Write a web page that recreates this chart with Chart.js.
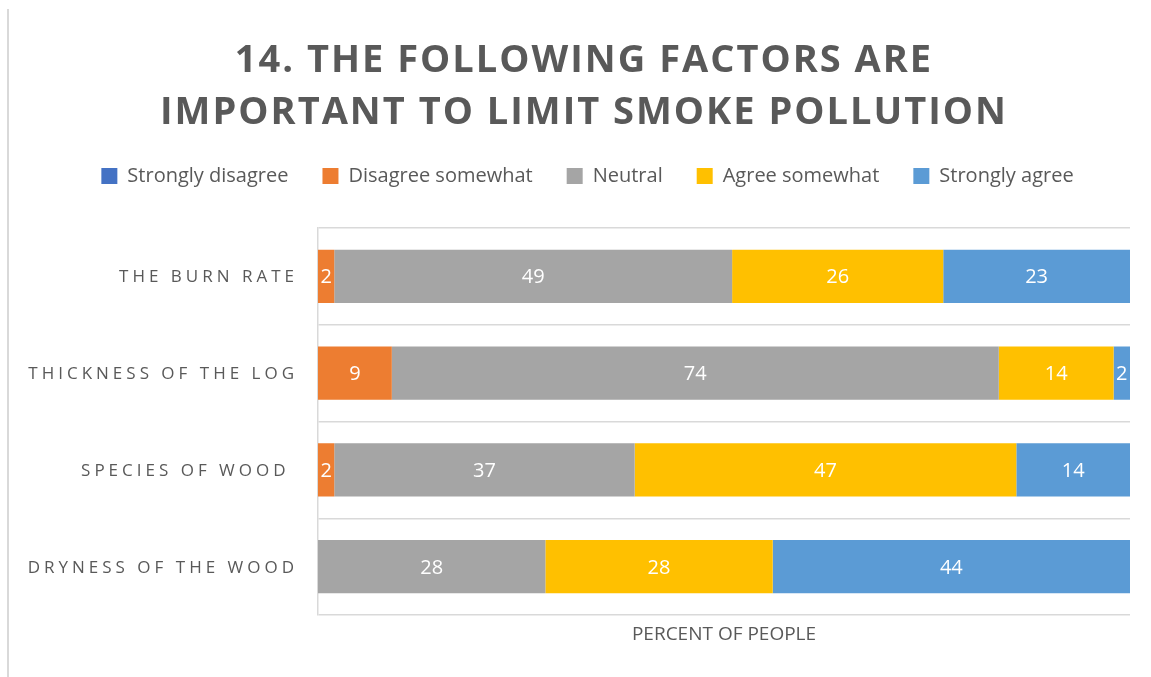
<!DOCTYPE html>
<html lang="en">
<head>
<meta charset="UTF-8">
<title>Factors to limit smoke pollution</title>
<script src="https://cdn.jsdelivr.net/npm/chart.js"></script>
<style>
  html, body { margin: 0; padding: 0; background: #fff; }
  #wrap { position: relative; width: 1151px; height: 677px; }
  #frame { position: absolute; left: 7px; top: 9px; bottom: 0; border-left: 2px solid #d9d9d9; }
  canvas { position: absolute; left: 0; top: 0; }
</style>
</head>
<body>
<div id="wrap">
  <div id="frame"></div>
  <canvas id="chart" width="1151" height="677"></canvas>
</div>
<script>
// Survey answers, percent of people per factor
const titleLines = ["14. THE FOLLOWING FACTORS ARE", "IMPORTANT TO LIMIT SMOKE POLLUTION"];
const factors = ["THE BURN RATE", "THICKNESS OF THE LOG", "SPECIES OF WOOD ", "DRYNESS OF THE WOOD"];
const responses = ["Strongly disagree", "Disagree somewhat", "Neutral", "Agree somewhat", "Strongly agree"];
const responseColors = ["#4472C4", "#ED7D31", "#A5A5A5", "#FFC000", "#5B9BD5"];
const stronglyDisagree = [0, 0, 0, 0];
const disagreeSomewhat = [2, 9, 2, 0];
const neutral = [49, 74, 37, 28];
const agreeSomewhat = [26, 14, 47, 28];
const stronglyAgree = [23, 2, 14, 44];
const axisTitle = "PERCENT OF PEOPLE";

const series = [stronglyDisagree, disagreeSomewhat, neutral, agreeSomewhat, stronglyAgree];
const TEXT = "#595959";
const LEGEND_TOP = 132;
const PLOT_TOP = 228;

// 100% stacked: each row is scaled to its own total
const rowTotals = factors.map((_, i) => series.reduce((s, arr) => s + arr[i], 0));

const datasets = series.map((vals, k) => ({
    label: responses[k],
    data: vals.map((v, i) => v / rowTotals[i] * 100),
    raw: vals,
    backgroundColor: responseColors[k],
    borderWidth: 0,
    categoryPercentage: 1,
    barPercentage: 0.55
}));

const textPlugin = {
    id: "texts",
    beforeLayout(chart) {
        // fixed legend block height so the plot starts at PLOT_TOP
        const lg = chart.legend;
        if (lg && !lg._fixed) {
            const fit = lg.fit;
            lg.fit = function () { fit.call(this); this.height = PLOT_TOP - LEGEND_TOP; };
            lg._fixed = true;
        }
    },
    afterDraw(chart) {
        const ctx = chart.ctx;
        const area = chart.chartArea;
        const yScale = chart.scales.y;

        // title
        ctx.save();
        ctx.fillStyle = TEXT;
        ctx.font = 'bold 38px "Open Sans"';
        ctx.letterSpacing = "2px";
        ctx.textAlign = "center";
        ctx.textBaseline = "alphabetic";
        ctx.fillText(titleLines[0], 584, 72);
        ctx.fillText(titleLines[1], 584, 124);
        ctx.restore();

        // category labels
        ctx.save();
        ctx.fillStyle = TEXT;
        ctx.font = '17px "Open Sans"';
        ctx.letterSpacing = "4px";
        ctx.textAlign = "right";
        ctx.textBaseline = "alphabetic";
        factors.forEach((f, i) => {
            ctx.fillText(f, area.left - 20, yScale.getPixelForValue(i) + 6);
        });
        ctx.restore();

        // values inside the bars
        ctx.save();
        ctx.fillStyle = "#fff";
        ctx.font = '20px "Open Sans"';
        ctx.textAlign = "center";
        ctx.textBaseline = "alphabetic";
        chart.data.datasets.forEach((ds, k) => {
            chart.getDatasetMeta(k).data.forEach((bar, i) => {
                if (!ds.raw[i]) return;
                const p = bar.getCenterPoint();
                ctx.fillText(String(ds.raw[i]), p.x, p.y + 7);
            });
        });
        ctx.restore();
    }
};

new Chart(document.getElementById("chart"), {
    type: "bar",
    data: { labels: factors, datasets: datasets },
    options: {
        indexAxis: "y",
        responsive: false,
        animation: false,
        layout: { padding: { top: LEGEND_TOP, left: 45, right: 21, bottom: 0 } },
        plugins: {
            legend: {
                position: "top",
                labels: {
                    boxWidth: 16,
                    boxHeight: 16,
                    padding: 34,
                    color: TEXT,
                    font: { family: "Open Sans", size: 20 }
                }
            },
            title: { display: false },
            tooltip: { enabled: false }
        },
        scales: {
            x: {
                stacked: true,
                min: 0,
                max: 100,
                ticks: { display: false },
                grid: { display: false },
                border: { display: false },
                title: {
                    display: true,
                    text: axisTitle,
                    color: TEXT,
                    font: { family: "Open Sans", size: 19 },
                    padding: { top: 31, bottom: 31 }
                },
                afterFit: s => { s.height = 62; }
            },
            y: {
                stacked: true,
                ticks: { display: false },
                grid: { offset: true, color: "#d9d9d9", lineWidth: 1.5, drawTicks: false },
                border: { color: "#d9d9d9", width: 1.5 },
                afterFit: s => { s.width = 273; }
            }
        }
    },
    plugins: [textPlugin]
});
</script>
</body>
</html>
